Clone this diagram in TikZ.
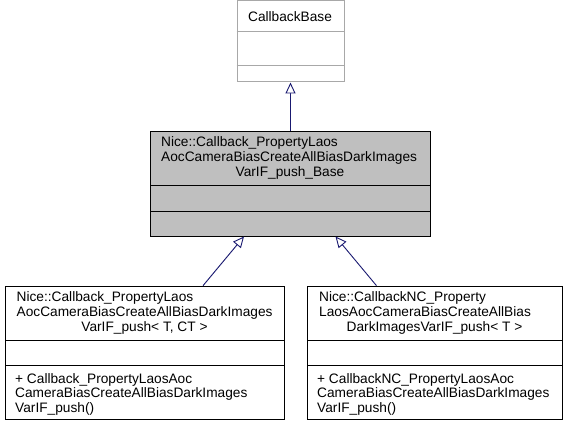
\documentclass[tikz,border=0pt]{standalone}
\usepackage{fontspec}
\setmainfont{Liberation Sans}
\usetikzlibrary{arrows.meta}
\definecolor{edgeblue}{HTML}{191970}
\definecolor{boxgray}{HTML}{BFBFBF}
\definecolor{basegray}{HTML}{A8A8A8}
\tikzset{
  classbox/.style={draw=black, line width=1pt, inner sep=0pt, anchor=north west},
  txt/.style={inner sep=0pt, font=\fontsize{13.7}{14.5}\selectfont},
  inherit/.style={draw=edgeblue, line width=0.9pt, -{Triangle[length=11pt,width=10pt,fill=white]}},
}
\begin{document}
\begin{tikzpicture}[x=1pt,y=-1pt]
\useasboundingbox (0,0) rectangle (568,427);
% base class
\node[classbox, draw=basegray, minimum width=107pt, minimum height=81pt] (base) at (236.5,0.5) {};
\draw[basegray, line width=1pt] (236.5,31.7) -- (343.5,31.7);
\draw[basegray, line width=1pt] (236.5,65.7) -- (343.5,65.7);
\node[txt, anchor=base] (baset) at (290,22) {CallbackBase};
% middle class
\node[classbox, fill=boxgray, minimum width=280pt, minimum height=105.5pt] (mid) at (150,131) {};
\draw[line width=1pt] (150,186) -- (430,186);
\draw[line width=1pt] (150,211.5) -- (430,211.5);
\node[txt, anchor=base west] (m1) at (161,147) {Nice::Callback\_PropertyLaos};
\node[txt, anchor=base west] (m2) at (161,161.6) {AocCameraBiasCreateAllBiasDarkImages};
\node[txt, anchor=base] (m3) at (290,176.2) {VarIF\_push\_Base};
% bottom left class
\node[classbox, minimum width=279pt, minimum height=133.5pt] (bl) at (5,285.7) {};
\draw[line width=1pt] (5,341) -- (284,341);
\draw[line width=1pt] (5,365.7) -- (284,365.7);
\node[txt, anchor=base west] (l1) at (16.5,302) {Nice::Callback\_PropertyLaos};
\node[txt, anchor=base west] (l2) at (16.5,316.6) {AocCameraBiasCreateAllBiasDarkImages};
\node[txt, anchor=base] (l3) at (144.5,331.2) {VarIF\_push< T, CT >};
\node[txt, anchor=base west] (l4) at (15,383.3) {+ Callback\_PropertyLaosAoc};
\node[txt, anchor=base west] (l5) at (15,397.8) {CameraBiasCreateAllBiasDarkImages};
\node[txt, anchor=base west] (l6) at (15,412.3) {VarIF\_push()};
% bottom right class
\node[classbox, minimum width=255pt, minimum height=133.5pt] (br) at (307,285.7) {};
\draw[line width=1pt] (307,341) -- (562,341);
\draw[line width=1pt] (307,365.7) -- (562,365.7);
\node[txt, anchor=base west] (r1) at (319,302) {Nice::CallbackNC\_Property};
\node[txt, anchor=base west] (r2) at (319,316.6) {LaosAocCameraBiasCreateAllBias};
\node[txt, anchor=base] (r3) at (434.5,331.2) {DarkImagesVarIF\_push< T >};
\node[txt, anchor=base west] (r4) at (317,383.3) {+ CallbackNC\_PropertyLaosAoc};
\node[txt, anchor=base west] (r5) at (317,397.8) {CameraBiasCreateAllBiasDarkImages};
\node[txt, anchor=base west] (r6) at (317,412.3) {VarIF\_push()};
% connectors
\coordinate (blin) at (203,285.7);
\coordinate (midl) at (244,236.5);
\coordinate (brin) at (376.5,285.7);
\coordinate (midr) at (335.5,236.5);
\draw[inherit] (mid.north) -- (base.south);
\draw[inherit] (blin) -- (midl);
\draw[inherit] (brin) -- (midr);
\end{tikzpicture}
\end{document}
